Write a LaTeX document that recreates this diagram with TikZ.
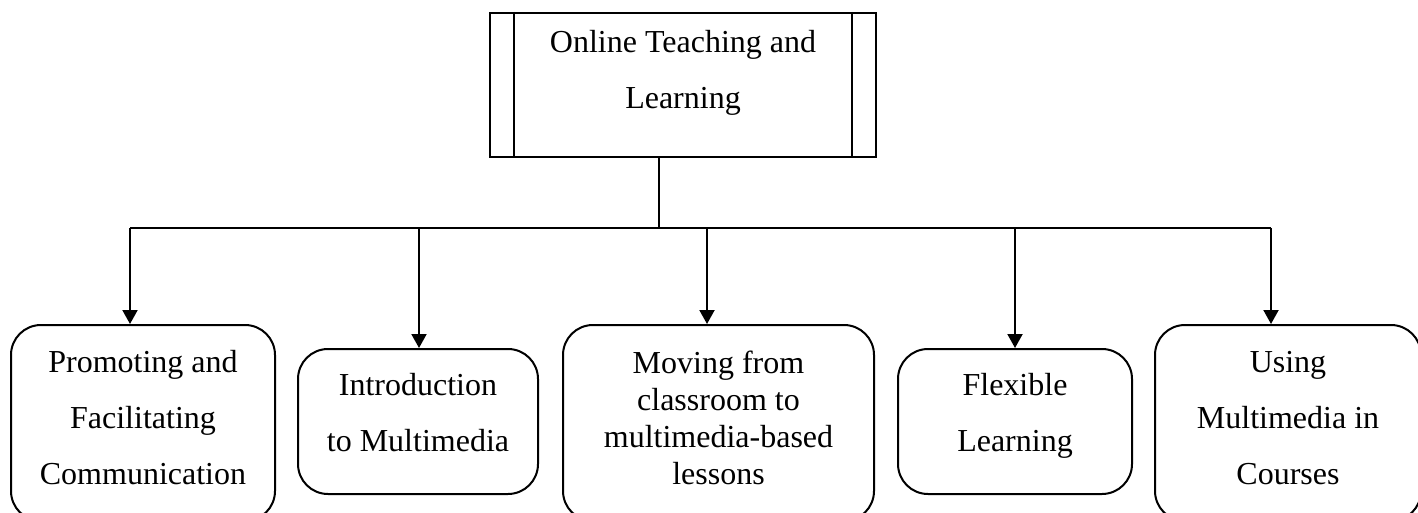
\documentclass[tikz,border=0pt]{standalone}
\usepackage{fontspec}
\setmainfont{Liberation Serif}
\usetikzlibrary{arrows.meta,positioning}

\begin{document}
\begin{tikzpicture}[x=0.5pt,y=-0.5pt,line width=1pt,
    >={Triangle[length=7pt,width=7.5pt]},
    every node/.style={inner sep=0pt,align=center,font=\fontsize{16}{28}\selectfont},
    main/.style={draw,rectangle,anchor=north,minimum width=193pt,text height=48pt,text depth=24pt},
    topic/.style={draw,rounded corners=15pt,anchor=north},
    short/.style={topic,text height=51pt,text depth=21.5pt},
    tall/.style={topic,text height=79.5pt,text depth=18.5pt}]
    \useasboundingbox (0,0) rectangle (1418,513);
    \node[main] (OTL) at (683,12) {Online Teaching and\\Learning};
    \draw ([xshift=12.5pt]OTL.north west) -- ([xshift=12.5pt]OTL.south west)
          ([xshift=-12.5pt]OTL.north east) -- ([xshift=-12.5pt]OTL.south east);
    \node[tall,minimum width=132pt] (PFC) at (143,324) {Promoting and\\Facilitating\\Communication};
    \node[short,minimum width=120pt] (ITM) at (418,348) {Introduction\\to Multimedia};
    \node[tall,minimum width=155.5pt,font=\fontsize{16}{18.4}\selectfont] (MCM) at (718.5,324) {Moving from\\classroom to\\multimedia-based\\lessons};
    \node[short,minimum width=117pt] (FL) at (1015,348) {Flexible\\Learning};
    \node[tall,minimum width=133pt] (UMC) at (1288,324) {Using\\Multimedia in\\Courses};
    \coordinate (bus) at (659,228);
    \draw (OTL.south -| bus) -- (bus);
    \draw ([xshift=-6.5pt]PFC.north |- bus) -- ([xshift=-8.5pt]UMC.north |- bus);
    \foreach \n/\s in {PFC/-6.5pt,ITM/0.5pt,MCM/-5.75pt,FL/0pt,UMC/-8.5pt}
        \draw[->] ([xshift=\s]\n.north |- bus) -- ([xshift=\s]\n.north);
\end{tikzpicture}
\end{document}
